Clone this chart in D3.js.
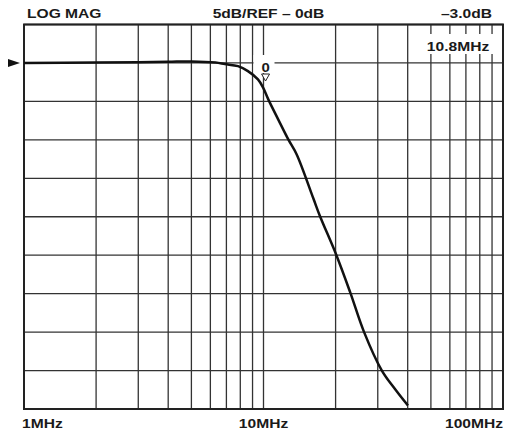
<!DOCTYPE html>
<html>
<head>
<meta charset="utf-8">
<script src="https://cdn.jsdelivr.net/npm/d3@7"></script>
<style>
  body { margin: 0; background: #fff; }
  text { font-family: "Liberation Sans", Arial, sans-serif; font-weight: bold; fill: #1a1a1a; }
</style>
</head>
<body>
<div id="chart"></div>
<script>
// frequency response data (MHz, dB)
var freqs = [1, 2, 3, 4, 5, 6.3, 6.9, 7.83, 8.61, 9.48, 9.95, 10.47, 11.5, 12.69, 13.76, 16.14, 17.2, 20.1, 23.0, 26.3, 31.2, 35.4, 40.1];
var gains = [0, 0.05, 0.1, 0.15, 0.2, 0.05, -0.15, -0.42, -1.06, -2.14, -3.18, -4.74, -7.3, -9.94, -11.9, -17.6, -19.9, -24.9, -29.8, -35.0, -40.0, -42.4, -44.55];

var xTicks = [1, 2, 3, 4, 5, 6, 7, 8, 9, 10, 20, 30, 40, 50, 60, 70, 80, 90, 100];
var xLabels = [{f: 1, t: "1MHz"}, {f: 10, t: "10MHz"}, {f: 100, t: "100MHz"}];
var yTicks = [5, 0, -5, -10, -15, -20, -25, -30, -35, -40, -45];
var headerLabels = ["LOG MAG", "5dB/REF \u2013 0dB", "\u20133.0dB"];
var markerFreq = 10.2;   // where the marker sits on the trace
var markerLabel = "10.8MHz";
var refLevel = 0;

var width = 506, height = 433;
var pLeft = 24, pRight = 503, pTop = 24.5, pBottom = 409;

var svg = d3.select("#chart").append("svg")
    .attr("width", width)
    .attr("height", height);

var x = d3.scaleLog().domain([1, 100]).range([pLeft, pRight]);
var y = d3.scaleLinear().domain([5, -45]).range([pTop, pBottom]);

// grid
var grid = svg.append("g").attr("stroke", "#333").attr("stroke-width", 1.3);

grid.selectAll("line.v")
    .data(xTicks)
    .enter()
    .append("line")
    .attr("class", "v")
    .attr("x1", function (d) { return x(d); })
    .attr("x2", function (d) { return x(d); })
    .attr("y1", pTop)
    .attr("y2", pBottom);

grid.selectAll("line.h")
    .data(yTicks)
    .enter()
    .append("line")
    .attr("class", "h")
    .attr("x1", pLeft)
    .attr("x2", pRight)
    .attr("y1", function (d) { return y(d); })
    .attr("y2", function (d) { return y(d); });

// white patches behind the annotations
svg.append("rect")
    .attr("x", 420).attr("y", 34)
    .attr("width", 77).attr("height", 20)
    .attr("fill", "#fff");

svg.append("rect")
    .attr("x", x(10) - 10).attr("y", 55)
    .attr("width", 21).attr("height", 18)
    .attr("fill", "#fff");

// border
svg.append("rect")
    .attr("x", pLeft).attr("y", pTop)
    .attr("width", pRight - pLeft).attr("height", pBottom - pTop)
    .attr("fill", "none")
    .attr("stroke", "#222")
    .attr("stroke-width", 2);

// trace
var pts = freqs.map(function (f, i) { return [f, gains[i]]; });
var line = d3.line()
    .x(function (d) { return x(d[0]); })
    .y(function (d) { return y(d[1]); })
    .curve(d3.curveCatmullRom.alpha(0.5));

svg.append("path")
    .datum(pts)
    .attr("d", line)
    .attr("fill", "none")
    .attr("stroke", "#111")
    .attr("stroke-width", 2.5)
    .attr("stroke-linejoin", "round");

// reference arrow
var ry = y(refLevel);
svg.append("path")
    .attr("d", "M8," + (ry - 4) + "L20," + ry + "L8," + (ry + 4) + "Z")
    .attr("fill", "#111");

// marker
var mx = x(markerFreq);
svg.append("text")
    .attr("transform", "translate(" + mx + ",71.5) scale(1.15,1)")
    .attr("text-anchor", "middle")
    .style("font-size", "13px")
    .text("0");
svg.append("path")
    .attr("d", "M" + (mx - 4) + ",74L" + (mx + 4) + ",74L" + mx + ",81Z")
    .attr("fill", "#fff")
    .attr("stroke", "#222")
    .attr("stroke-width", 1);

// bold labels, slightly wide like the instrument font
function label(tx, ty, anchor, str) {
    svg.append("text")
        .attr("transform", "translate(" + tx + "," + ty + ") scale(1.2,1)")
        .attr("text-anchor", anchor)
        .style("font-size", "13px")
        .text(str);
}

label(458, 51, "middle", markerLabel);

// header
label(27, 18, "start", headerLabels[0]);
label(x(10) + 5, 18, "middle", headerLabels[1]);
label(492, 18, "end", headerLabels[2]);

// frequency labels
xLabels.forEach(function (d, i) {
    var tx = i === 0 ? 22 : (i === 2 ? 503 : x(d.f));
    var anchor = i === 0 ? "start" : (i === 2 ? "end" : "middle");
    label(tx, 428, anchor, d.t);
});
</script>
</body>
</html>
